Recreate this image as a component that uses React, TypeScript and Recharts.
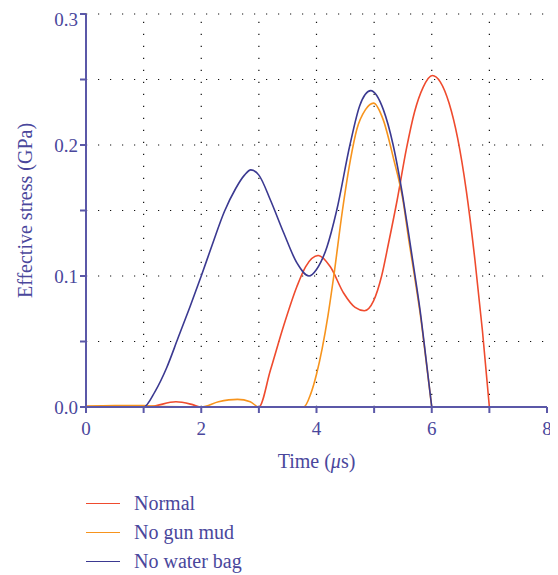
import React from 'react';
import { LineChart, Line, XAxis, YAxis, CartesianGrid, ReferenceLine } from 'recharts';

// Time (µs) / effective stress (GPa)
const normalT = [0, 0.5, 1.0, 1.15, 1.56, 1.85, 2.0, 2.5, 3.0, 3.2, 3.43, 3.66, 3.81, 4.03, 4.24, 4.47, 4.67, 4.83, 4.99, 5.13, 5.25, 5.4, 5.56, 5.7, 5.85, 6.01, 6.15, 6.3, 6.45, 6.6, 6.75, 6.88, 7.0];
const normalV = [0, 0, 0, 0.0005, 0.004, 0.0018, 0, 0, 0, 0.028, 0.062, 0.092, 0.107, 0.1156, 0.107, 0.087, 0.076, 0.0735, 0.081, 0.1, 0.125, 0.158, 0.197, 0.225, 0.244, 0.253, 0.248, 0.232, 0.205, 0.165, 0.112, 0.058, 0];

const noMudT = [0, 0.5, 1.0, 1.3, 2.0, 2.3, 2.63, 2.85, 3.0, 3.4, 3.78, 3.9, 4.0, 4.1, 4.2, 4.3, 4.45, 4.59, 4.7, 4.85, 4.99, 5.16, 5.34, 5.5, 5.6, 5.7, 5.8, 5.9, 6.0];
const noMudV = [0.0008, 0.0012, 0.0012, 0.0003, 0, 0.004, 0.0058, 0.004, 0, 0, 0, 0.01, 0.025, 0.045, 0.07, 0.1, 0.15, 0.189, 0.212, 0.227, 0.232, 0.219, 0.189, 0.158, 0.128, 0.1, 0.071, 0.036, 0];

const noBagT = [0, 0.5, 1.0, 1.2, 1.4, 1.6, 1.8, 2.0, 2.2, 2.4, 2.6, 2.75, 2.86, 3.0, 3.2, 3.43, 3.66, 3.87, 4.0, 4.18, 4.35, 4.58, 4.75, 4.94, 5.16, 5.33, 5.5, 5.6, 5.7, 5.8, 5.9, 6.0];
const noBagV = [0, 0, 0, 0.012, 0.03, 0.053, 0.076, 0.1, 0.125, 0.149, 0.167, 0.177, 0.181, 0.177, 0.158, 0.133, 0.11, 0.1, 0.105, 0.122, 0.15, 0.2, 0.23, 0.2415, 0.227, 0.2, 0.16, 0.132, 0.103, 0.073, 0.037, 0];

const xTicks = [0, 1, 2, 3, 4, 5, 6, 7, 8];
const yTicks = [0, 0.05, 0.1, 0.15, 0.2, 0.25, 0.3];

const seriesNames = ['Normal', 'No gun mud', 'No water bag'];
const seriesColors = ['#ef4b2e', '#f7941d', '#3b3991'];

const toPoints = (ts: number[], vs: number[]) => ts.map((t, i) => ({ t, v: vs[i] }));

const axisColor = '#5b58a8';
const textColor = '#4a479c';
const gridColor = '#111';
const gridDash = '1.2 10.8';
const font = '"Liberation Serif", "Times New Roman", serif';

const XLabel = ({ viewBox }: any) => {
  const cx = viewBox.x + viewBox.width / 2;
  return (
    <text x={cx} y={viewBox.y + 61} textAnchor="middle" fill={textColor} fontSize={20} fontFamily={font}>
      Time (<tspan fontStyle="italic">μ</tspan>s)
    </text>
  );
};

const YLabel = ({ viewBox }: any) => {
  const x = viewBox.x + 17;
  const y = viewBox.y + viewBox.height / 2;
  return (
    <text
      x={x}
      y={y}
      transform={`rotate(-90, ${x}, ${y})`}
      textAnchor="middle"
      dominantBaseline="central"
      fill={textColor}
      fontSize={20}
      fontFamily={font}
    >
      Effective stress (GPa)
    </text>
  );
};

const App: React.FC = () => {
  const series = [
    toPoints(normalT, normalV),
    toPoints(noMudT, noMudV),
    toPoints(noBagT, noBagV),
  ];

  return (
    <div style={{ position: 'relative', width: 550, height: 567, fontFamily: font }}>
      <LineChart width={550} height={474} margin={{ top: 6, right: 11, left: 0, bottom: 0 }}>
        <CartesianGrid
          xAxisId="b"
          yAxisId="l"
          stroke={gridColor}
          strokeDasharray={gridDash}
          strokeWidth={1.2}
          vertical={false}
        />
        {/* vertical dotted grid, one per time tick */}
        {xTicks.slice(1, -1).map((t) => (
          <ReferenceLine
            key={`vx-${t}`}
            xAxisId="b"
            yAxisId="l"
            x={t}
            stroke={gridColor}
            strokeDasharray={gridDash}
            strokeWidth={1.2}
          />
        ))}
        <XAxis
          xAxisId="b"
          dataKey="t"
          type="number"
          domain={[0, 8]}
          ticks={xTicks}
          tickFormatter={(v: number) => (v % 2 === 0 ? String(v) : '')}
          stroke={axisColor}
          strokeWidth={2}
          tickSize={6}
          tickMargin={9}
          height={75}
          tick={{ fill: textColor, fontSize: 19, fontFamily: font }}
          label={<XLabel />}
        />
        <XAxis
          xAxisId="top"
          orientation="top"
          dataKey="t"
          type="number"
          domain={[0, 8]}
          ticks={xTicks}
          tickFormatter={() => ''}
          stroke={axisColor}
          strokeWidth={2}
          mirror
          tickSize={4}
          height={0}
        />
        <YAxis
          yAxisId="l"
          dataKey="v"
          type="number"
          domain={[0, 0.3]}
          ticks={yTicks}
          tickFormatter={(v: number) => (Math.round(v * 100) % 10 === 0 ? v.toFixed(1) : '')}
          stroke={axisColor}
          strokeWidth={2}
          tickSize={6}
          width={78}
          tick={{ fill: textColor, fontSize: 19, fontFamily: font }}
          label={<YLabel />}
        />
        <YAxis
          yAxisId="r"
          orientation="right"
          dataKey="v"
          type="number"
          domain={[0, 0.3]}
          ticks={yTicks}
          tickFormatter={() => ''}
          stroke={axisColor}
          strokeWidth={2}
          mirror
          tickSize={4}
          width={0}
        />
        {series.map((d, i) => (
          <Line
            key={seriesNames[i]}
            xAxisId="b"
            yAxisId="l"
            data={d}
            dataKey="v"
            name={seriesNames[i]}
            type="monotone"
            stroke={seriesColors[i]}
            strokeWidth={1.6}
            dot={false}
            isAnimationActive={false}
          />
        ))}
      </LineChart>
      <div style={{ position: 'absolute', left: 78, top: 481 }}>
        {seriesNames.map((name, i) => (
          <div key={name} style={{ display: 'flex', alignItems: 'center', height: 29 }}>
            <div style={{ width: 34, height: 0, borderTop: `1.5px solid ${seriesColors[i]}`, marginRight: 14 }} />
            <span style={{ color: textColor, fontSize: 20, lineHeight: '29px' }}>{name}</span>
          </div>
        ))}
      </div>
    </div>
  );
};

export default App;
